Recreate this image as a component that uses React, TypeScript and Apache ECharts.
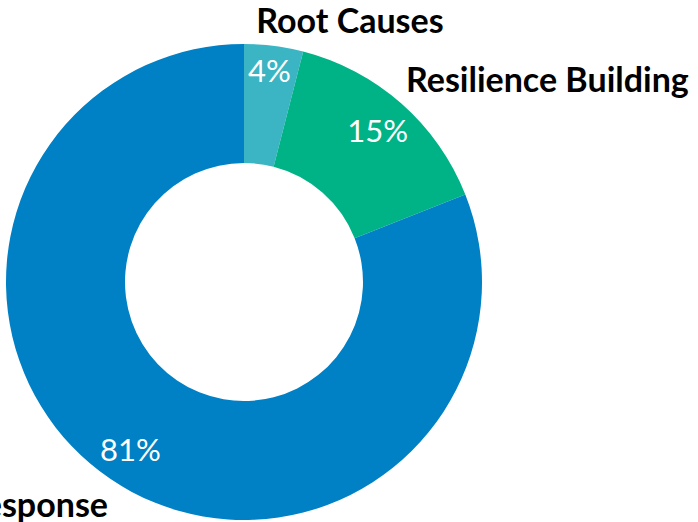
import React, { useEffect, useRef } from "react";
import * as echarts from "echarts";

const categories = ["Root Causes", "Resilience Building", "Response"];
const shares = [4, 15, 81];
const colors = ["#3BB5C3", "#00B386", "#0080C5"];

export default function App() {
  const ref = useRef<HTMLDivElement>(null);
  useEffect(() => {
    if (!ref.current) return;
    const chart = echarts.init(ref.current, undefined, { renderer: "svg" });
    const data = categories.map((name, i) => ({
      name,
      value: shares[i],
      itemStyle: { color: colors[i] },
    }));
    const outerPos = [
      { x: 350, y: 19, align: "center" },
      { x: 406, y: 78, align: "left" },
      { x: 108, y: 503, align: "right" },
    ];
    const innerShift = [-12, 0, 0];
    chart.setOption({
      animation: false,
      series: [
        {
          type: "pie",
          center: [244, 282],
          radius: [119, 238],
          startAngle: 90,
          avoidLabelOverlap: false,
          data,
          label: {
            show: true,
            position: "outside",
            formatter: "{b}",
            fontFamily: "Lato",
            fontWeight: "bold",
            fontSize: 34,
            color: "#000",
          },
          labelLine: { show: false },
          labelLayout: (p: any) => ({
            x: outerPos[p.dataIndex].x,
            y: outerPos[p.dataIndex].y,
            align: outerPos[p.dataIndex].align,
            verticalAlign: "middle",
          }),
          emphasis: { disabled: true },
        },
        {
          type: "pie",
          center: [244, 282],
          radius: [160, 238],
          startAngle: 90,
          silent: true,
          avoidLabelOverlap: false,
          data: data.map((d) => ({ ...d, itemStyle: { color: "rgba(0,0,0,0)" } })),
          label: {
            show: true,
            position: "inside",
            formatter: "{c}%",
            fontFamily: "Lato",
            fontSize: 31,
            color: "#fff",
          },
          labelLayout: (p: any) => ({ dy: innerShift[p.dataIndex] }),
          labelLine: { show: false },
          emphasis: { disabled: true },
        },
      ],
    });
    return () => chart.dispose();
  }, []);
  return (
    <div
      ref={ref}
      style={{ position: "fixed", left: 0, top: 0, width: 698, height: 522, background: "#fff" }}
    />
  );
}
